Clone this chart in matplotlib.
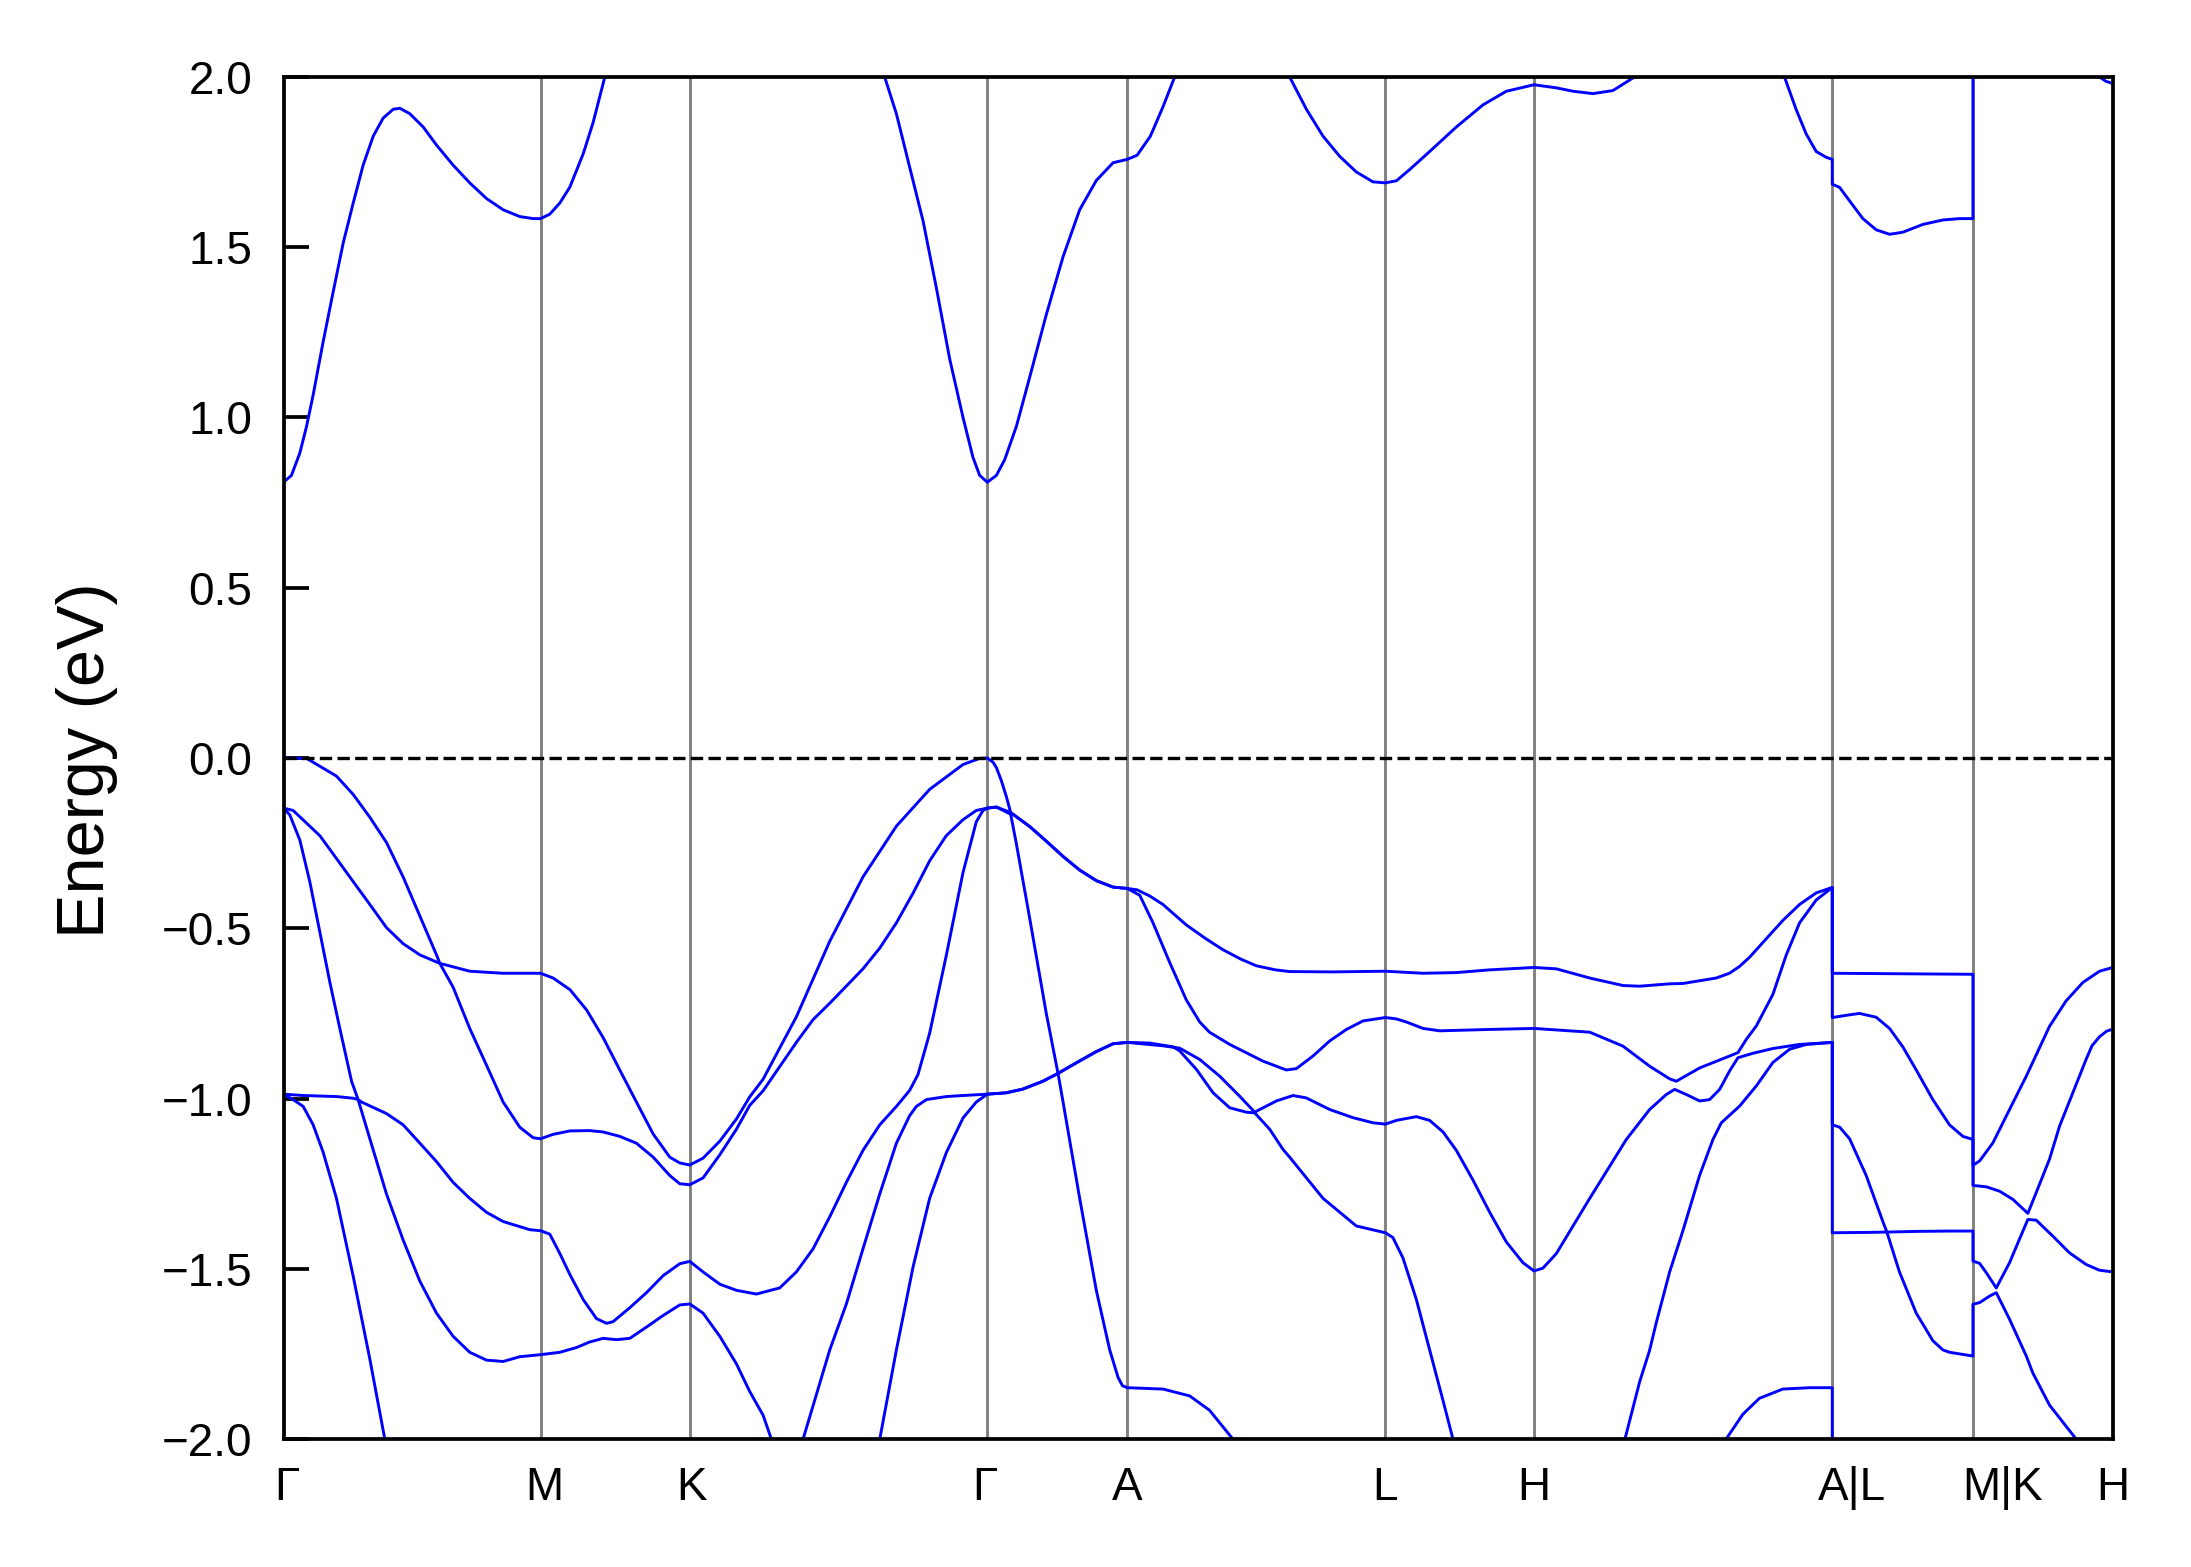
import numpy as np
import matplotlib
matplotlib.use("Agg")
from matplotlib import pyplot as plt
import matplotlib.transforms as mtransforms

plt.rcParams['font.family'] = ['Liberation Sans', 'DejaVu Sans']

# High-symmetry points along the path (path length, arbitrary units)
kpoint_pos = [0.0, 0.184, 0.2908, 0.5038, 0.604, 0.7887, 0.8951, 1.1086, 1.2093, 1.3094]
kpoint_labels = ['Γ', 'M', 'K', 'Γ', 'A', 'L', 'H', 'A|L', 'M|K', 'H']

GAP = (np.nan, np.nan)  # band leaves the energy window

# Conduction band (k, E in eV)
band_c1 = [
    (0.0, 0.81), (0.0057, 0.83), (0.0117, 0.896), (0.0165, 0.974), (0.0212, 1.066), (0.0284, 1.223),
    (0.0355, 1.368), (0.0427, 1.512), (0.0499, 1.63), (0.057, 1.741), (0.0642, 1.826), (0.0713, 1.879),
    (0.0785, 1.905), (0.0833, 1.908), (0.0904, 1.892), (0.100, 1.853), (0.1095, 1.80), (0.1214, 1.741),
    (0.1333, 1.689), (0.1453, 1.643), (0.1572, 1.61), (0.1691, 1.59), (0.1787, 1.584), (0.184, 1.584),
    (0.1906, 1.597), (0.1978, 1.63), (0.2049, 1.676), (0.2145, 1.774), (0.2216, 1.866), (0.230, 2.0), GAP,
    (0.4303, 2.0), (0.4387, 1.892), (0.4482, 1.735), (0.4578, 1.577), (0.4673, 1.381), (0.4769, 1.171),
    (0.4864, 1.0), (0.4935, 0.883), (0.4983, 0.83), (0.5038, 0.81), (0.5103, 0.83), (0.5162, 0.876),
    (0.5246, 0.974), (0.5341, 1.118), (0.546, 1.302), (0.558, 1.472), (0.5699, 1.61), (0.5818, 1.696),
    (0.5938, 1.748), (0.604, 1.758), (0.611, 1.77), (0.6205, 1.826), (0.6295, 1.912), (0.6379, 2.0), GAP,
    (0.7202, 2.0), (0.7322, 1.905), (0.7441, 1.826), (0.756, 1.767), (0.7679, 1.721), (0.7798, 1.692),
    (0.7887, 1.689), (0.7966, 1.695), (0.8061, 1.728), (0.8204, 1.781), (0.8395, 1.853), (0.8586, 1.918),
    (0.8753, 1.958), (0.8951, 1.977), (0.9111, 1.968), (0.923, 1.958), (0.9373, 1.951), (0.9516, 1.96),
    (0.9659, 1.997), (0.9683, 2.0), GAP,
    (1.0744, 2.0), (1.0827, 1.905), (1.0899, 1.833), (1.0971, 1.781), (1.1043, 1.764), (1.1086, 1.758),
    (1.1086, 1.685), (1.1138, 1.676), (1.121, 1.636), (1.1305, 1.584), (1.1401, 1.551), (1.1496, 1.538),
    (1.1591, 1.544), (1.1735, 1.567), (1.1878, 1.58), (1.1997, 1.584), (1.2093, 1.584), (1.2093, 2.2), GAP,
    (1.2998, 2.0), (1.3046, 1.987), (1.3094, 1.981),
]

# Valence bands, sorted by energy (k, E in eV)
band_v1 = [
    (0.0, 0.0), (0.0165, -0.001), (0.0379, -0.053), (0.0499, -0.107), (0.0618, -0.174), (0.0737, -0.248),
    (0.0856, -0.349), (0.0976, -0.464), (0.1095, -0.578), (0.1119, -0.603), (0.1167, -0.608),
    (0.1333, -0.626), (0.157, -0.632), (0.184, -0.632),
    (0.193, -0.646), (0.205, -0.68), (0.217, -0.74), (0.2288, -0.821), (0.2407, -0.916), (0.2526, -1.01),
    (0.2646, -1.104), (0.2765, -1.172), (0.2836, -1.189), (0.2908, -1.195),
    (0.3003, -1.175), (0.3123, -1.125), (0.3242, -1.06), (0.3337, -0.995), (0.3433, -0.943), (0.3671, -0.76),
    (0.391, -0.538), (0.4148, -0.349), (0.4387, -0.20), (0.4625, -0.092), (0.4864, -0.019), (0.4983, -0.001),
    (0.5038, 0.0), (0.5078, -0.012), (0.5103, -0.028), (0.5138, -0.066), (0.5174, -0.113), (0.5205, -0.16),
    (0.5341, -0.201), (0.546, -0.244), (0.558, -0.289), (0.5699, -0.329), (0.5818, -0.36), (0.5938, -0.379),
    (0.604, -0.383), (0.611, -0.387), (0.62, -0.405), (0.6295, -0.43), (0.6462, -0.49), (0.66, -0.53),
    (0.6725, -0.563), (0.685, -0.59), (0.6963, -0.61), (0.71, -0.622), (0.7202, -0.627), (0.75, -0.628),
    (0.7887, -0.626), (0.8157, -0.632), (0.8395, -0.63), (0.8634, -0.622), (0.8951, -0.615),
    (0.9111, -0.619), (0.935, -0.646), (0.9588, -0.668), (0.9707, -0.67), (0.9922, -0.663), (1.0017, -0.662),
    (1.0255, -0.646), (1.035, -0.632), (1.0422, -0.612), (1.0494, -0.585), (1.0613, -0.531), (1.0732, -0.477),
    (1.0852, -0.43), (1.0971, -0.396), (1.1086, -0.38),
    (1.1086, -0.632), (1.2093, -0.635),
    (1.2093, -1.196), (1.2141, -1.183), (1.2236, -1.13), (1.2355, -1.032), (1.2475, -0.934), (1.2641, -0.788),
    (1.276, -0.713), (1.288, -0.659), (1.2999, -0.626), (1.3094, -0.615),
]

band_v2 = [
    (0.0, -0.147), (0.0069, -0.154), (0.026, -0.228), (0.0379, -0.295), (0.0499, -0.363), (0.0618, -0.430),
    (0.0737, -0.498), (0.0856, -0.545), (0.0976, -0.578), (0.1119, -0.603), (0.1214, -0.673), (0.1333, -0.794),
    (0.1453, -0.902), (0.1572, -1.01), (0.1691, -1.084), (0.1787, -1.115), (0.184, -1.118),
    (0.193, -1.105), (0.205, -1.095), (0.219, -1.094), (0.2288, -1.098), (0.2407, -1.111), (0.2526, -1.131),
    (0.2646, -1.172), (0.2765, -1.226), (0.2836, -1.25), (0.2908, -1.253),
    (0.3003, -1.233), (0.3123, -1.165), (0.3242, -1.09), (0.3337, -1.02), (0.3433, -0.977), (0.3671, -0.835),
    (0.3791, -0.768), (0.391, -0.72), (0.4148, -0.619), (0.4268, -0.558), (0.4387, -0.484), (0.4506, -0.397),
    (0.4625, -0.302), (0.4744, -0.228), (0.4864, -0.181), (0.4959, -0.154), (0.5038, -0.147),
    (0.5103, -0.144), (0.5205, -0.16), (0.5341, -0.201), (0.546, -0.244), (0.558, -0.289), (0.5699, -0.329),
    (0.5818, -0.36), (0.5938, -0.379), (0.604, -0.383),
    (0.6129, -0.403), (0.6224, -0.484), (0.6343, -0.60), (0.6462, -0.71), (0.6558, -0.775), (0.6628, -0.805),
    (0.6773, -0.841), (0.7011, -0.89), (0.7178, -0.916), (0.725, -0.912), (0.7369, -0.875), (0.7488, -0.831),
    (0.7608, -0.797), (0.7727, -0.772), (0.7887, -0.762),
    (0.7966, -0.766), (0.8037, -0.775), (0.8157, -0.794), (0.8276, -0.801), (0.8634, -0.797), (0.8951, -0.794),
    (0.935, -0.805), (0.9588, -0.846), (0.9779, -0.905), (0.9922, -0.942), (0.997, -0.949), (1.0137, -0.91),
    (1.0351, -0.875), (1.0411, -0.865), (1.0471, -0.826), (1.0542, -0.787), (1.0661, -0.694), (1.0757, -0.578),
    (1.0852, -0.484), (1.0971, -0.417), (1.1086, -0.38),
    (1.1086, -0.762), (1.121, -0.754), (1.1281, -0.75), (1.14, -0.761), (1.1496, -0.794), (1.1591, -0.848),
    (1.1687, -0.916), (1.1806, -1.003), (1.1925, -1.077), (1.2021, -1.111), (1.2093, -1.12),
    (1.2093, -1.255), (1.2188, -1.259), (1.2284, -1.272), (1.2379, -1.296), (1.2486, -1.337), (1.2546, -1.276),
    (1.2641, -1.178), (1.2713, -1.081), (1.2808, -0.983), (1.2903, -0.885), (1.2945, -0.845), (1.300, -0.818),
    (1.305, -0.802), (1.3094, -0.796),
]

band_v3 = [
    (0.0, -0.147), (0.0045, -0.167), (0.0117, -0.241), (0.0188, -0.363), (0.026, -0.511), (0.0332, -0.659),
    (0.0403, -0.794), (0.0487, -0.949), (0.0534, -1.003), (0.0558, -1.01), (0.0737, -1.044), (0.0856, -1.077),
    (0.0976, -1.131), (0.1095, -1.185), (0.1214, -1.246), (0.1333, -1.293), (0.1453, -1.334), (0.1572, -1.361),
    (0.1763, -1.385), (0.184, -1.388),
    (0.1906, -1.398), (0.1978, -1.455), (0.2049, -1.516), (0.2145, -1.59), (0.224, -1.646), (0.2312, -1.66),
    (0.2359, -1.655), (0.2479, -1.614), (0.2598, -1.57), (0.2717, -1.52), (0.2836, -1.485), (0.2908, -1.478),
    (0.3003, -1.509), (0.3123, -1.545), (0.3242, -1.563), (0.3385, -1.574), (0.3552, -1.556), (0.3671, -1.509),
    (0.3791, -1.441), (0.391, -1.347), (0.4029, -1.246), (0.4148, -1.152), (0.4268, -1.077), (0.4387, -1.023),
    (0.4482, -0.976), (0.4542, -0.929), (0.4625, -0.808), (0.4745, -0.578), (0.4864, -0.336), (0.4959, -0.187),
    (0.5007, -0.154), (0.5038, -0.147),
    (0.5103, -0.144), (0.5205, -0.165), (0.5245, -0.25), (0.5341, -0.47), (0.546, -0.75), (0.5544, -0.926),
    (0.5675, -0.895), (0.5818, -0.862), (0.5938, -0.839), (0.604, -0.835),
    (0.6295, -0.845), (0.6415, -0.852), (0.6558, -0.885), (0.6701, -0.934), (0.6844, -0.993), (0.6952, -1.04),
    (0.6988, -1.032), (0.7107, -1.007), (0.7226, -0.991), (0.7321, -0.998), (0.7488, -1.032), (0.7655, -1.056),
    (0.7798, -1.071), (0.7887, -1.075),
    (0.7966, -1.064), (0.8109, -1.053), (0.8204, -1.064), (0.83, -1.098), (0.8395, -1.152), (0.8514, -1.239),
    (0.8634, -1.334), (0.8753, -1.421), (0.8872, -1.482), (0.8951, -1.506),
    (0.9015, -1.498), (0.9111, -1.455), (0.935, -1.293), (0.9612, -1.12), (0.9779, -1.032), (0.9898, -0.988),
    (0.9958, -0.973), (1.0041, -0.988), (1.0137, -1.007), (1.0208, -1.003), (1.028, -0.973), (1.0351, -0.919),
    (1.0411, -0.88), (1.0518, -0.867), (1.0661, -0.853), (1.0852, -0.841), (1.1086, -0.835),
    (1.1086, -1.077), (1.1139, -1.084), (1.121, -1.118), (1.1329, -1.226), (1.1448, -1.361), (1.1477, -1.392),
    (1.1687, -1.39), (1.1925, -1.389), (1.2093, -1.389),
    (1.2093, -1.477), (1.2141, -1.484), (1.2188, -1.511), (1.226, -1.556), (1.2355, -1.482), (1.2426, -1.413),
    (1.2486, -1.355), (1.2546, -1.357), (1.2665, -1.404), (1.2784, -1.453), (1.2903, -1.487), (1.2998, -1.504),
    (1.3094, -1.509),
]

band_v4 = [
    (0.0, -0.987), (0.0141, -0.991), (0.0379, -0.994), (0.0499, -0.999), (0.0534, -1.003), (0.0618, -1.118),
    (0.0737, -1.28), (0.0856, -1.415), (0.0976, -1.536), (0.1095, -1.63), (0.1214, -1.698), (0.1333, -1.745),
    (0.1453, -1.768), (0.1572, -1.772), (0.1691, -1.758), (0.184, -1.752),
    (0.1978, -1.745), (0.2097, -1.731), (0.219, -1.715), (0.2288, -1.704), (0.2383, -1.708), (0.2479, -1.704),
    (0.2598, -1.671), (0.2717, -1.637), (0.2836, -1.606), (0.2908, -1.603),
    (0.3003, -1.63), (0.3123, -1.698), (0.3242, -1.779), (0.3337, -1.86), (0.3433, -1.93), (0.3492, -2.0), GAP,
    (0.3719, -2.0), (0.391, -1.738), (0.4029, -1.603), (0.4148, -1.441), (0.4268, -1.28), (0.4387, -1.131),
    (0.4482, -1.05), (0.453, -1.023), (0.4602, -1.003), (0.4745, -0.994), (0.4864, -0.991), (0.5038, -0.987),
    (0.5174, -0.983), (0.5293, -0.972), (0.5436, -0.949), (0.5544, -0.926), (0.5675, -0.895), (0.5818, -0.862),
    (0.5938, -0.839), (0.604, -0.835),
    (0.62, -0.837), (0.6367, -0.848), (0.6415, -0.860), (0.6534, -0.914), (0.6654, -0.983), (0.6773, -1.027),
    (0.6892, -1.040), (0.6952, -1.042), (0.7059, -1.090), (0.7154, -1.149), (0.7202, -1.172), (0.7441, -1.293),
    (0.7679, -1.374), (0.7887, -1.394),
    (0.7941, -1.408), (0.8013, -1.468), (0.8109, -1.59), (0.8204, -1.738), (0.83, -1.887), (0.8371, -2.0), GAP,
    (0.9602, -2.0), (0.9707, -1.832), (0.9778, -1.74), (0.9827, -1.657), (0.9922, -1.509), (1.0017, -1.388),
    (1.0136, -1.226), (1.0232, -1.12), (1.0292, -1.071), (1.0423, -1.022), (1.0542, -0.963), (1.0661, -0.894),
    (1.0781, -0.855), (1.09, -0.841), (1.1086, -0.835),
    (1.1086, -1.394), (1.1329, -1.393), (1.1477, -1.392), (1.1567, -1.509), (1.1687, -1.63), (1.1806, -1.711),
    (1.1878, -1.738), (1.1925, -1.745), (1.2093, -1.756),
    (1.2093, -1.604), (1.2141, -1.599), (1.2212, -1.58), (1.226, -1.570), (1.2355, -1.648), (1.2475, -1.756),
    (1.2522, -1.806), (1.2641, -1.9), (1.2832, -2.0),
]

band_v5 = [
    (0.0, -0.987), (0.0069, -1.003), (0.0141, -1.023), (0.0212, -1.077), (0.0284, -1.158), (0.0379, -1.293),
    (0.0499, -1.522), (0.0618, -1.765), (0.0725, -2.0), GAP,
    (0.4268, -2.0), (0.4387, -1.738), (0.4506, -1.495), (0.4625, -1.293), (0.4745, -1.158), (0.4864, -1.057),
    (0.4959, -1.01), (0.5038, -0.987),
    (0.5174, -0.983), (0.5293, -0.972), (0.5436, -0.949), (0.5544, -0.926), (0.558, -1.01), (0.5699, -1.293),
    (0.5818, -1.563), (0.5914, -1.738), (0.5974, -1.819), (0.6005, -1.843), (0.604, -1.849),
    (0.6295, -1.853), (0.6486, -1.873), (0.6628, -1.915), (0.6796, -2.0), GAP,
    (1.0326, -2.0), (1.0446, -1.927), (1.0565, -1.88), (1.0732, -1.853), (1.0923, -1.849), (1.1086, -1.849),
    (1.1086, -2.2),
]

bands = [band_c1, band_v1, band_v2, band_v3, band_v4, band_v5]

fig = plt.figure(figsize=(2191 / 300, 1567 / 300), dpi=300)
ax = fig.add_axes([0.1294, 0.0816, 0.8349, 0.8693])

# high-symmetry lines
for x in kpoint_pos[1:-1]:
    ax.axvline(x, color='gray', lw=0.7, zorder=1)

# bands
for band in bands:
    arr = np.array(band, dtype=float)
    ax.plot(arr[:, 0], arr[:, 1], color='blue', lw=0.7, zorder=2)

# Fermi level / VBM
ax.axhline(0.0, color='black', ls='--', lw=0.8, zorder=3)

ax.set_xlim(kpoint_pos[0], kpoint_pos[-1])
ax.set_ylim(-2.0, 2.0)
ax.set_xticks(kpoint_pos)
ax.set_xticklabels(kpoint_labels)
ax.set_yticks(np.arange(-2.0, 2.01, 0.5))
ax.tick_params(axis='y', direction='in', length=6, width=0.9, labelsize=11, pad=7.5)
ax.tick_params(axis='x', length=0, labelsize=11, pad=6.5)
for sp in ax.spines.values():
    sp.set_linewidth(0.9)

# the combined labels sit a little right of their lines in the original
label_shift_pt = [0.8, 0.8, 0.5, -0.5, 0, 0, 0, 4.7, 7.0, 0]
for lab, dx in zip(ax.get_xticklabels(), label_shift_pt):
    lab.set_transform(lab.get_transform() + mtransforms.ScaledTranslation(dx / 72, 0, fig.dpi_scale_trans))

fig.text(0.0397, 0.515, 'Energy (eV)', rotation=90, ha='center', va='center', fontsize=16)

fig.savefig('out.png', dpi=300)
